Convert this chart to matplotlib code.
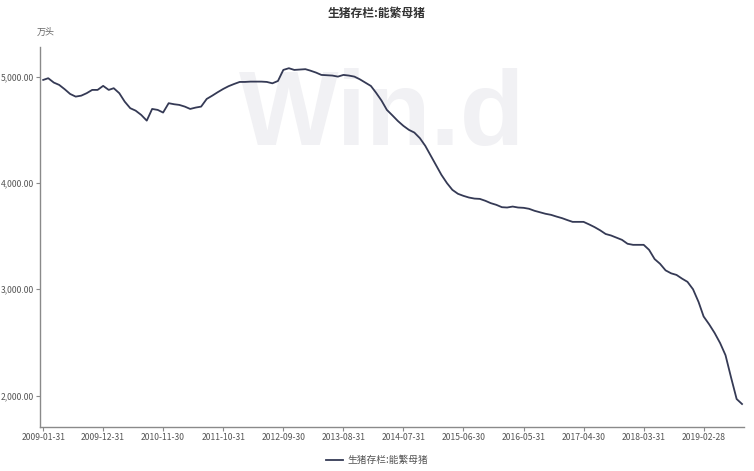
import pandas as pd
import matplotlib
matplotlib.use("Agg")
import matplotlib.pyplot as plt
import matplotlib.dates as mdates
from matplotlib.ticker import FuncFormatter

plt.rcParams['font.family'] = ['Noto Sans CJK SC', 'DejaVu Sans']

title = "生猪存栏:能繁母猪"
unit = "万头"

# monthly values, 2009-01 .. 2019-09 (万头)
values = [
    4969, 4985, 4944, 4922, 4881, 4837, 4812, 4821, 4844, 4875, 4875, 4913,
    4875, 4891, 4844, 4765, 4703, 4680, 4640, 4586, 4696, 4687, 4662, 4750,
    4740, 4734, 4718, 4696, 4709, 4718, 4790, 4821, 4853, 4884, 4910, 4931,
    4950, 4950, 4953, 4953, 4953, 4950, 4937, 4959, 5063, 5079, 5063, 5066,
    5070, 5056, 5038, 5016, 5013, 5010, 5000, 5016, 5010, 5000, 4975, 4944,
    4912, 4850, 4775, 4687, 4635, 4583, 4537, 4499, 4474, 4421, 4349, 4255,
    4161, 4076, 3998, 3935, 3898, 3879, 3863, 3853, 3850, 3832, 3810, 3794,
    3772, 3769, 3778, 3769, 3766, 3757, 3738, 3724, 3710, 3700, 3684, 3669,
    3650, 3634, 3634, 3634, 3610, 3585, 3555, 3520, 3506, 3485, 3465, 3428,
    3418, 3418, 3418, 3371, 3284, 3240, 3178, 3150, 3135, 3100, 3070, 3000,
    2880, 2744, 2670, 2590, 2494, 2380, 2170, 1968, 1921,
]
dates = pd.date_range("2009-01-31", periods=len(values), freq="ME")
tick_dates = dates[::11]
y_ticks = [2000, 3000, 4000, 5000]

fig = plt.figure(figsize=(7.54, 4.71), dpi=100)
ax = fig.add_axes([0.0535, 0.093, 0.933, 0.808])

# faint watermark, under the line
ax.text(0.506, 0.692, "Win.d", transform=fig.transFigure, ha="center", va="baseline",
        fontsize=76, fontweight="bold", color="#f1f1f4", family="Liberation Sans", zorder=1)

ax.plot(dates, values, color="#353a55", linewidth=1.3, label=title, zorder=3)

ax.set_xlim(dates[0] - pd.Timedelta(days=16), dates[-1] + pd.Timedelta(days=10))
ax.set_ylim(1703, 5282)
ax.set_xticks(tick_dates)
ax.xaxis.set_major_formatter(mdates.DateFormatter("%Y-%m-%d"))
ax.set_yticks(y_ticks)
ax.yaxis.set_major_formatter(FuncFormatter(lambda v, p: f"{v:,.2f}"))

for s in ["top", "right"]:
    ax.spines[s].set_visible(False)
for s in ["left", "bottom"]:
    ax.spines[s].set_color("#8a8a8a")
    ax.spines[s].set_linewidth(1.0)
ax.tick_params(axis="both", colors="#8a8a8a", labelcolor="#555555", labelsize=6.2,
               length=3, width=0.8, pad=1.5)
ax.patch.set_alpha(0)

fig.text(0.5, 0.972, title, ha="center", va="center", fontsize=8.5, fontweight="bold", color="#333333")
fig.text(0.06, 0.932, unit, ha="center", va="center", fontsize=6.5, color="#666666")

fig.legend(loc="center", bbox_to_anchor=(0.5, 0.023), frameon=False, fontsize=7,
           handlelength=1.8, handletextpad=0.4, labelcolor="#555555")

fig.savefig("out.png", dpi=100)
